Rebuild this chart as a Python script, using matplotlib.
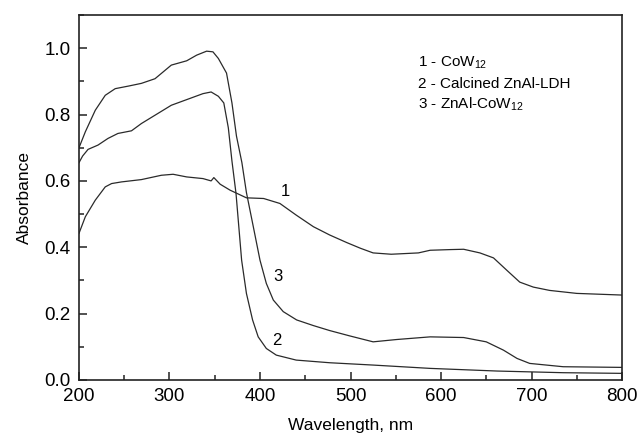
import numpy as np
import matplotlib
matplotlib.use("Agg")
import matplotlib.pyplot as plt
from matplotlib.ticker import MultipleLocator, FormatStrFormatter

plt.rcParams['font.family'] = ['Liberation Sans', 'DejaVu Sans']
plt.rcParams['mathtext.fontset'] = 'custom'
plt.rcParams['mathtext.rm'] = 'Liberation Sans'
plt.rcParams['mathtext.it'] = 'Liberation Sans:italic'

# curve 1 - CoW12
wl1 = [200, 207, 218, 229, 236, 247, 269, 291, 304, 319, 337, 346, 349, 356, 367, 385,
       404, 422, 440, 459, 477, 496, 511, 525, 545, 560, 575, 588, 610, 625, 643, 658,
       673, 687, 702, 720, 750, 800]
abs1 = [0.442, 0.492, 0.542, 0.582, 0.592, 0.597, 0.604, 0.617, 0.620, 0.612, 0.607, 0.600,
        0.610, 0.590, 0.572, 0.549, 0.547, 0.532, 0.497, 0.462, 0.437, 0.414, 0.397, 0.383,
        0.379, 0.381, 0.383, 0.391, 0.393, 0.394, 0.383, 0.368, 0.330, 0.295, 0.280, 0.270,
        0.261, 0.256]

# curve 2 - calcined ZnAl-LDH
wl2 = [200, 204, 210, 221, 232, 243, 258, 269, 284, 302, 319, 337, 346, 354, 360, 365,
       369, 373.5, 379.7, 385, 391.8, 398, 407, 418, 440, 477, 525, 588, 662, 735, 800]
abs2 = [0.655, 0.675, 0.695, 0.708, 0.728, 0.743, 0.751, 0.773, 0.798, 0.828, 0.845, 0.863,
        0.868, 0.855, 0.835, 0.76, 0.66, 0.562, 0.361, 0.261, 0.181, 0.130, 0.095, 0.075,
        0.060, 0.052, 0.045, 0.035, 0.027, 0.022, 0.020]

# curve 3 - ZnAl-CoW12
wl3 = [200, 207, 218, 229, 240, 255, 269, 284, 302, 319, 330, 341, 348, 354, 363, 369,
       374, 380, 385, 392.6, 400, 407, 414.7, 425.7, 440.5, 459, 477, 499, 525, 551, 588,
       625, 650, 669, 684, 698, 735, 800]
abs3 = [0.700, 0.748, 0.813, 0.858, 0.878, 0.886, 0.894, 0.908, 0.949, 0.962, 0.979, 0.991,
        0.989, 0.969, 0.925, 0.835, 0.735, 0.655, 0.565, 0.462, 0.361, 0.291, 0.241, 0.206,
        0.181, 0.164, 0.149, 0.133, 0.115, 0.122, 0.130, 0.128, 0.115, 0.090, 0.065, 0.050,
        0.040, 0.038]

legend_lines = ["1 - CoW$_{\\mathrm{12}}$", "2 - Calcined ZnAl-LDH", "3 - ZnAl-CoW$_{\\mathrm{12}}$"]
curve_labels = ["1", "3", "2"]
label_x = [428, 420, 419]
label_y = [0.567, 0.311, 0.120]

fig = plt.figure(figsize=(6.39, 4.34), dpi=100)
ax = fig.add_axes([79 / 639, 1 - 380 / 434, 543 / 639, 365 / 434])

col = '#2a2a2a'
for wl, a in [(wl1, abs1), (wl2, abs2), (wl3, abs3)]:
    ax.plot(wl, a, color=col, lw=0.9)

ax.set_xlim(200, 800)
ax.set_ylim(0, 1.1)
ax.xaxis.set_major_locator(MultipleLocator(100))
ax.xaxis.set_minor_locator(MultipleLocator(50))
ax.yaxis.set_major_locator(MultipleLocator(0.2))
ax.yaxis.set_minor_locator(MultipleLocator(0.1))
ax.yaxis.set_major_formatter(FormatStrFormatter('%.1f'))
ax.tick_params(which='both', direction='in', labelsize=13.5, color='#222222')
ax.tick_params(which='major', length=6, width=1.1)
ax.tick_params(which='minor', length=3.5, width=1.1)
ax.tick_params(axis='y', pad=6)
ax.tick_params(axis='x', pad=6)
for s in ax.spines.values():
    s.set_linewidth(1.2)
    s.set_color('#222222')

ax.set_xlabel("Wavelength, nm", fontsize=12.5, labelpad=9)
ax.set_ylabel("Absorbance", fontsize=12.5, labelpad=9)

# curve numbers
for t, x, y in zip(curve_labels, label_x, label_y):
    ax.text(x, y, t, fontsize=12, ha='center', va='center')

for i, t in enumerate(legend_lines):
    ax.text(0.624, 0.87 - i * 0.058, t, transform=ax.transAxes, fontsize=11,
            ha='left', va='center')

fig.savefig("out.png", dpi=100)
